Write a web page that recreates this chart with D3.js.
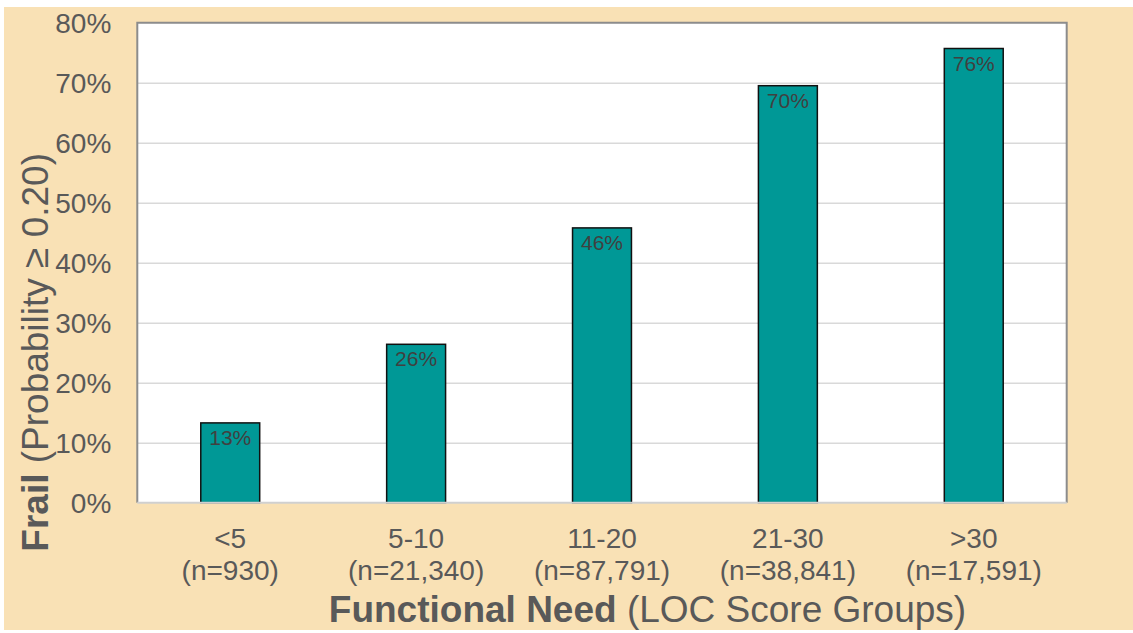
<!DOCTYPE html>
<html>
<head>
<meta charset="utf-8">
<script src="https://cdn.jsdelivr.net/npm/d3@7/dist/d3.min.js"></script>
<style>
  html, body { margin: 0; padding: 0; background: #ffffff; }
  svg { display: block; font-family: "Liberation Sans", Arial, sans-serif; }
</style>
</head>
<body>
<svg id="chart" width="1133" height="633"></svg>
<script>
const categories = ["<5", "5-10", "11-20", "21-30", ">30"];
const sampleSizes = ["(n=930)", "(n=21,340)", "(n=87,791)", "(n=38,841)", "(n=17,591)"];
const frailShare = [0.133, 0.264, 0.458, 0.695, 0.757];
const yTicks = [0, 0.1, 0.2, 0.3, 0.4, 0.5, 0.6, 0.7, 0.8];

const svg = d3.select("#chart");
const W = 1133, H = 633;
const plot = { left: 137.3, right: 1066.7, top: 22.7, bottom: 502.7 };
const textColor = "#595959";

// background panel
svg.append("rect").attr("x", 4).attr("y", 7).attr("width", W - 4).attr("height", 623)
  .attr("fill", "#f9e1b5");

// plot area
svg.append("rect").attr("x", plot.left).attr("y", plot.top)
  .attr("width", plot.right - plot.left).attr("height", plot.bottom - plot.top)
  .attr("fill", "#ffffff");

const x = d3.scaleBand().domain(categories).range([plot.left, plot.right])
  .paddingInner(0.683).paddingOuter(0.3415);
const y = d3.scaleLinear().domain([0, 0.8]).range([plot.bottom, plot.top]);

// gridlines
const grid = svg.append("g").attr("transform", `translate(${plot.left},0)`)
  .call(d3.axisLeft(y).tickValues(yTicks.slice(1, -1)).tickSize(-(plot.right - plot.left)).tickFormat(""));
grid.select(".domain").remove();
grid.selectAll("line").attr("stroke", "#d9d9d9").attr("stroke-width", 1.5);

// border top/left/right
svg.append("path")
  .attr("d", `M${plot.left},${plot.bottom}V${plot.top}H${plot.right}V${plot.bottom}`)
  .attr("fill", "none").attr("stroke", "#8c8c8c").attr("stroke-width", 2);

// bars
svg.append("g").selectAll("rect").data(frailShare).join("rect")
  .attr("x", (d, i) => x(categories[i]))
  .attr("y", d => y(d))
  .attr("width", x.bandwidth())
  .attr("height", d => y(0) - y(d))
  .attr("fill", "#009896")
  .attr("stroke", "#111111").attr("stroke-width", 1.5);

// bottom axis line
svg.append("line").attr("x1", plot.left).attr("x2", plot.right)
  .attr("y1", plot.bottom).attr("y2", plot.bottom)
  .attr("stroke", "#d0d0d0").attr("stroke-width", 2);

// bar labels
const fmt = d3.format(".0%");
svg.append("g").selectAll("text").data(frailShare).join("text")
  .attr("x", (d, i) => x(categories[i]) + x.bandwidth() / 2)
  .attr("y", d => y(d) + 22)
  .attr("text-anchor", "middle")
  .attr("font-size", 21).attr("fill", "#404040")
  .text(d => fmt(d));

// y axis tick labels
const yAxis = svg.append("g").attr("transform", `translate(${plot.left - 26},0)`)
  .call(d3.axisLeft(y).tickValues(yTicks).tickSize(0).tickPadding(0).tickFormat(d3.format(".0%")));
yAxis.select(".domain").remove();
yAxis.selectAll("text").attr("font-size", 28).attr("fill", textColor)
  .attr("font-family", "Liberation Sans, Arial, sans-serif")
  .attr("dy", null).attr("dominant-baseline", null)
  .attr("y", 10);

// x axis labels
const xAxis = svg.append("g").attr("transform", `translate(0,${plot.bottom})`)
  .call(d3.axisBottom(x).tickSize(0).tickFormat(""));
xAxis.select(".domain").remove();
xAxis.selectAll(".tick").each(function(d, i) {
  const t = d3.select(this).append("text")
    .attr("text-anchor", "middle").attr("font-size", 28).attr("fill", textColor)
    .attr("font-family", "Liberation Sans, Arial, sans-serif");
  t.append("tspan").attr("x", 0).attr("y", 45.5).text(categories[i]);
  t.append("tspan").attr("x", 0).attr("y", 77.5).text(sampleSizes[i]);
});

// x axis title
const xt = svg.append("text").attr("x", (328 + 967) / 2).attr("y", 622.3)
  .attr("text-anchor", "middle").attr("font-size", 37).attr("fill", textColor);
xt.append("tspan").attr("font-weight", "bold").text("Functional Need");
xt.append("tspan").text(" (LOC Score Groups)");

// y axis title
const yt = svg.append("text")
  .attr("transform", `translate(48.3,${(553 + 151.7) / 2}) rotate(-90)`)
  .attr("text-anchor", "middle").attr("font-size", 37).attr("fill", textColor);
yt.append("tspan").attr("font-weight", "bold").text("Frail");
yt.append("tspan").text(" (Probability \u2265 0.20)");
</script>
</body>
</html>
